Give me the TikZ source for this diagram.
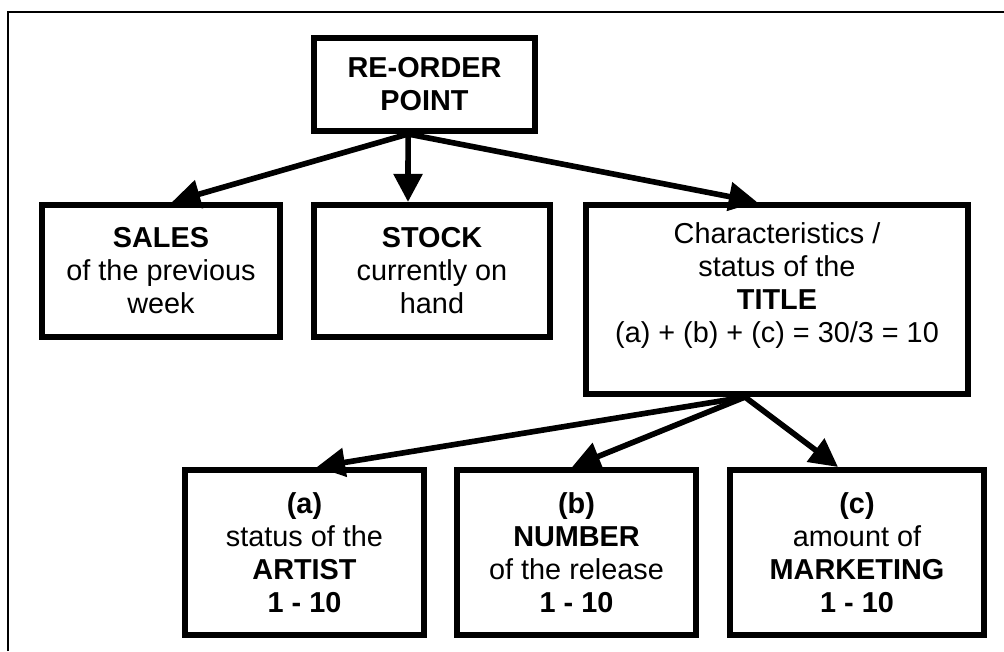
\documentclass[tikz,border=0pt]{standalone}
\usepackage{fontspec}
\setmainfont{Liberation Sans}
\usetikzlibrary{arrows.meta}

\begin{document}
\begin{tikzpicture}[x=0.025cm,y=-0.025cm,
    box/.style={draw=black,line width=4pt,align=center,inner sep=2pt,
                font=\fontsize{20.5}{23.5}\selectfont},
    link/.style={draw=black,line width=4pt,-{Triangle[length=20pt,width=20pt]}}]
   \useasboundingbox (0,0) rectangle (1004,651);
   \draw[line width=1.1pt] (8,651) -- (8,12) -- (1004,12);
   \node[box,minimum width=5.535cm,minimum height=2.335cm] (reorder) at (424.5,84.5) {\textbf{RE-ORDER}\\\textbf{POINT}};
   \node[box,minimum width=5.96cm,minimum height=3.31cm] (sales) at (161,271) {\textbf{SALES}\\of the previous\\week};
   \node[box,minimum width=5.91cm,minimum height=3.31cm] (stock) at (432,271) {\textbf{STOCK}\\currently on\\hand};
   \node[box,minimum width=9.56cm,minimum height=4.735cm] (title) at (777,299.5) {Characteristics /\\status of the\\\textbf{TITLE}\\(a) + (b) + (c) = 30/3 = 10\\\mbox{}};
   \node[box,minimum width=5.985cm,minimum height=4.135cm] (artist) at (304.5,552.5) {\textbf{(a)}\\status of the\\\textbf{ARTIST}\\\textbf{1 - 10}};
   \node[box,minimum width=5.985cm,minimum height=4.135cm] (number) at (576.5,552.5) {\textbf{(b)}\\\textbf{NUMBER}\\of the release\\\textbf{1 - 10}};
   \node[box,minimum width=6.36cm,minimum height=4.135cm] (marketing) at (857,552.5) {\textbf{(c)}\\amount of\\\textbf{MARKETING}\\\textbf{1 - 10}};
   \draw[link] ([xshift=-0.41cm]reorder.south) -- ([xshift=0.275cm]sales.north);
   \draw[link] ([xshift=-0.41cm]reorder.south) -- ([xshift=-0.6cm]stock.north);
   \draw[link] ([xshift=-0.41cm]reorder.south) -- ([xshift=-0.5cm]title.north);
   \draw[link] ([xshift=-0.8cm]title.south) -- ([xshift=0.31cm]artist.north);
   \draw[link] ([xshift=-0.8cm]title.south) -- ([xshift=-0.11cm]number.north);
   \draw[link] ([xshift=-0.8cm]title.south) -- ([xshift=-0.475cm]marketing.north);
\end{tikzpicture}
\end{document}
